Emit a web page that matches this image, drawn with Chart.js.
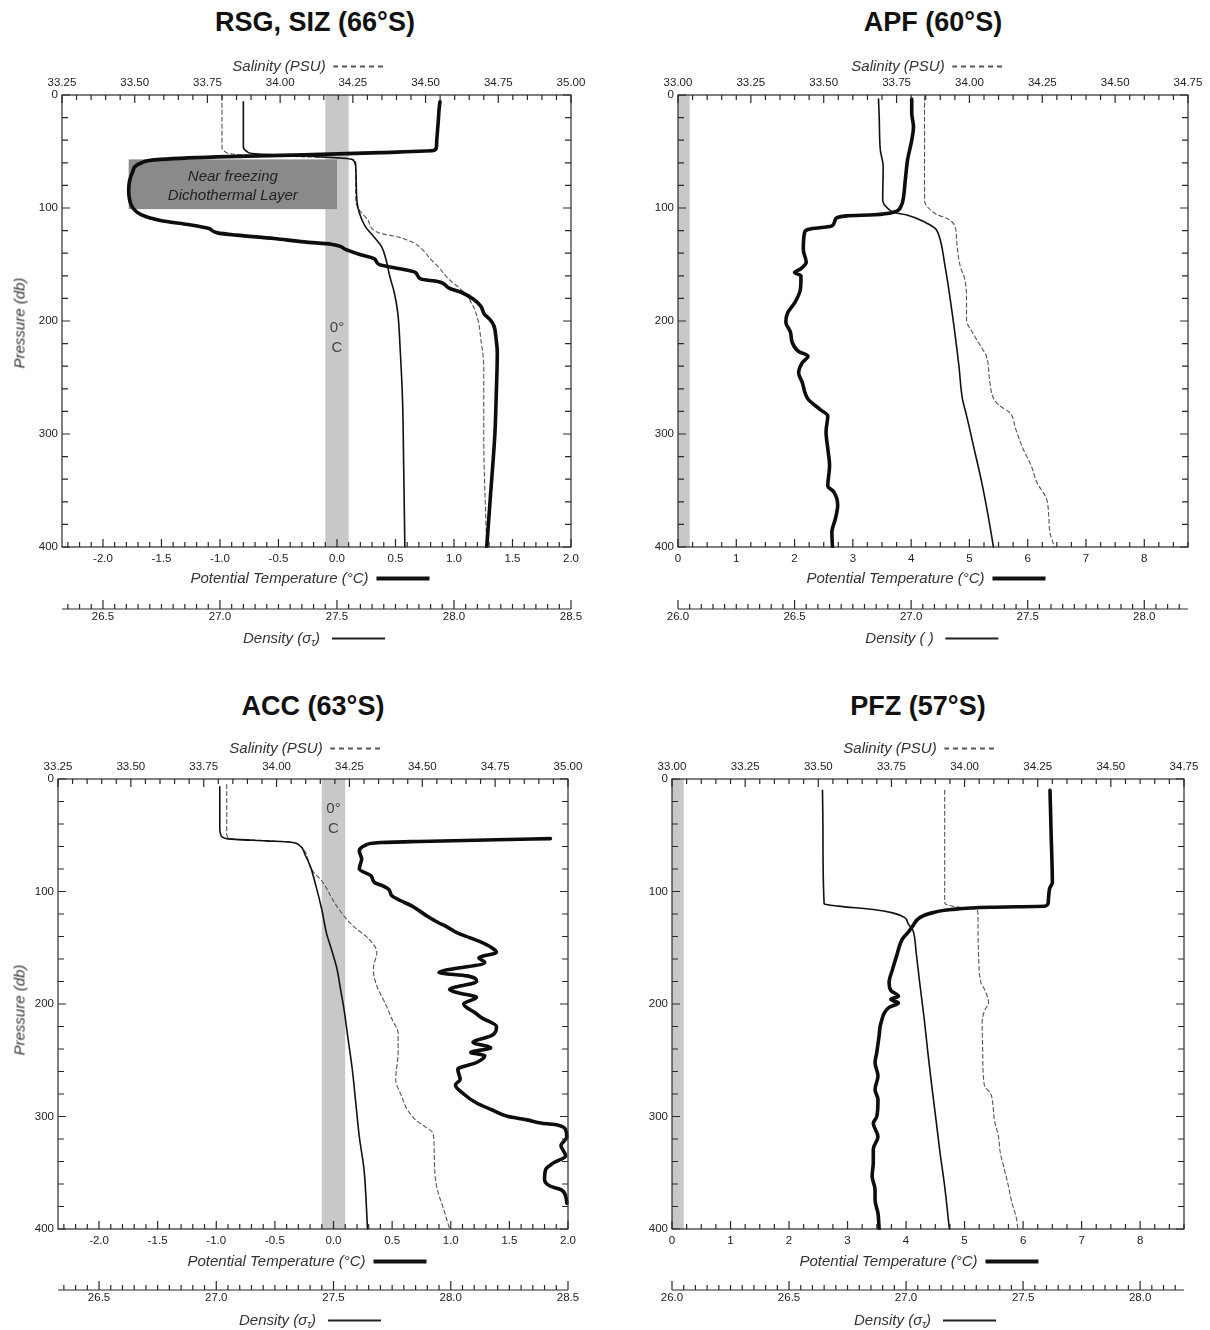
<!DOCTYPE html>
<html>
<head>
<meta charset="utf-8">
<script src="https://cdn.jsdelivr.net/npm/chart.js@4.4.1/dist/chart.umd.min.js"></script>
<style>
html, body { margin: 0; padding: 0; background: #fff; }
body { width: 1210px; height: 1330px; position: relative; overflow: hidden;
       font-family: "Liberation Sans", Arial, Helvetica, sans-serif; color: #222; }
canvas { position: absolute; }
.t { position: absolute; white-space: nowrap; transform: translate(-50%, -50%); line-height: 1; }
.title { font-weight: bold; font-size: 27px; color: #111; }
.ax { font-style: italic; font-size: 15px; color: #333; }
.ax sub { font-size: 10px; vertical-align: -3px; line-height: 0; }
.dash { display: inline-block; width: 52px; height: 1.5px; vertical-align: middle; margin-left: 8px;
        background: repeating-linear-gradient(90deg, #555 0 5px, transparent 5px 9px); }
.thick { display: inline-block; width: 53px; height: 4px; background: #111; vertical-align: middle; margin-left: 8px; }
.thin { display: inline-block; width: 53px; height: 1.5px; background: #222; vertical-align: middle; margin-left: 12px; }
.rot { transform: translate(-50%, -50%) rotate(-90deg); }
.note { font-style: italic; font-size: 15px; color: #222; }
.zero { font-size: 15px; color: #444; line-height: 20px; text-align: center; white-space: pre; }
</style>
</head>
<body>
<canvas id="rsg"></canvas>
<canvas id="apf"></canvas>
<canvas id="acc"></canvas>
<canvas id="pfz"></canvas>

<div class="t title" style="left:315px;top:22px">RSG, SIZ (66°S)</div>
<div class="t title" style="left:933px;top:22px">APF (60°S)</div>
<div class="t title" style="left:313px;top:706px">ACC (63°S)</div>
<div class="t title" style="left:918px;top:706px">PFZ (57°S)</div>

<div class="t ax" style="left:309px;top:65px">Salinity (PSU)<span class="dash"></span></div>
<div class="t ax" style="left:928px;top:65px">Salinity (PSU)<span class="dash"></span></div>
<div class="t ax" style="left:306px;top:747px">Salinity (PSU)<span class="dash"></span></div>
<div class="t ax" style="left:920px;top:747px">Salinity (PSU)<span class="dash"></span></div>

<div class="t ax" style="left:310px;top:577px">Potential Temperature (°C)<span class="thick"></span></div>
<div class="t ax" style="left:926px;top:577px">Potential Temperature (°C)<span class="thick"></span></div>
<div class="t ax" style="left:307px;top:1260px">Potential Temperature (°C)<span class="thick"></span></div>
<div class="t ax" style="left:919px;top:1260px">Potential Temperature (°C)<span class="thick"></span></div>

<div class="t ax" style="left:314px;top:637px">Density (σ<sub>τ</sub>)<span class="thin"></span></div>
<div class="t ax" style="left:932px;top:637px">Density ( )<span class="thin"></span></div>
<div class="t ax" style="left:310px;top:1319px">Density (σ<sub>τ</sub>)<span class="thin"></span></div>
<div class="t ax" style="left:925px;top:1319px">Density (σ<sub>τ</sub>)<span class="thin"></span></div>

<div class="t ax rot" style="left:19px;top:323px">Pressure (db)</div>
<div class="t ax rot" style="left:19px;top:1010px">Pressure (db)</div>

<script>
// ---- values (pressure in db) ----
// RSG, SIZ (66°S)
const rsgTempP = [6, 16, 46, 49, 51, 53, 54.5, 57, 60, 69, 84, 99, 106, 111, 115, 118, 122, 124, 127, 130, 132, 137, 141, 145, 150, 153, 157, 163, 165, 171, 175, 181, 187, 194, 199, 204, 216, 228, 269, 299, 357, 400];
const rsgTemp = [0.88, 0.87, 0.85, 0.83, 0.37, -0.28, -0.93, -1.51, -1.67, -1.75, -1.78, -1.75, -1.67, -1.51, -1.25, -1.10, -1.02, -0.86, -0.54, -0.28, -0.05, 0.08, 0.19, 0.32, 0.36, 0.50, 0.67, 0.72, 0.86, 0.96, 1.07, 1.17, 1.23, 1.26, 1.31, 1.34, 1.36, 1.37, 1.36, 1.35, 1.31, 1.28];
const rsgDensP = [6, 46, 50, 52, 54, 56, 57, 63, 93, 104, 116, 126, 134, 146, 160, 175, 193, 225, 269, 328, 400];
const rsgDens = [27.10, 27.10, 27.115, 27.15, 27.36, 27.525, 27.565, 27.58, 27.585, 27.595, 27.62, 27.66, 27.69, 27.71, 27.725, 27.745, 27.76, 27.77, 27.78, 27.785, 27.79];
const rsgSalP = [1, 46, 50, 53, 56, 59, 93, 101, 110, 122, 126, 131, 137, 146, 151, 163, 174, 185, 199, 216, 240, 299, 400];
const rsgSal = [33.80, 33.80, 33.81, 33.87, 34.22, 34.26, 34.26, 34.27, 34.30, 34.34, 34.41, 34.46, 34.49, 34.52, 34.54, 34.58, 34.63, 34.66, 34.68, 34.69, 34.70, 34.70, 34.71];

// APF (60°S)
const apfTempP = [3.5, 16, 28, 40, 57, 75, 93, 98, 104, 106, 107, 110, 116, 117.5, 119, 122, 137, 148, 154, 157, 160, 172, 184, 193, 201, 210, 219, 227, 231, 237, 246, 254, 269, 278, 284, 298, 313, 328, 346, 351, 363, 375, 387, 400];
const apfTemp = [4.01, 4.01, 4.04, 4.01, 3.94, 3.90, 3.86, 3.83, 3.68, 3.37, 2.90, 2.70, 2.64, 2.43, 2.23, 2.17, 2.15, 2.20, 2.10, 2.00, 2.11, 2.10, 2.00, 1.88, 1.85, 1.93, 1.96, 2.07, 2.23, 2.13, 2.07, 2.13, 2.23, 2.43, 2.57, 2.54, 2.57, 2.60, 2.57, 2.67, 2.74, 2.70, 2.64, 2.65];
const apfDensP = [3.5, 19, 49, 63, 93, 101, 104, 106, 113, 118, 122, 151, 196, 240, 269, 284, 313, 343, 372, 400];
const apfDens = [26.86, 26.863, 26.868, 26.88, 26.878, 26.903, 26.928, 26.978, 27.063, 27.103, 27.115, 27.145, 27.178, 27.205, 27.22, 27.238, 27.27, 27.303, 27.33, 27.353];
const apfSalP = [1, 93, 99, 106, 109, 116, 128, 151, 163, 181, 199, 210, 222, 231, 254, 269, 275, 281, 295, 313, 328, 343, 357, 372, 387, 400];
const apfSal = [33.846, 33.846, 33.856, 33.89, 33.922, 33.95, 33.956, 33.968, 33.984, 33.99, 33.99, 34.01, 34.038, 34.058, 34.07, 34.084, 34.104, 34.138, 34.158, 34.184, 34.212, 34.232, 34.264, 34.272, 34.276, 34.292];

// ACC (63°S)
const accTempP = [53, 54, 55.5, 56.5, 59, 64, 71, 80, 86, 92, 95, 98, 104, 108, 113, 117, 122, 128, 131, 137, 141, 145, 150, 154, 159, 163, 172, 175, 180, 187, 190, 194, 200, 208, 212, 220, 228, 234, 239, 243, 246, 252, 258, 267, 272, 280, 288, 294, 300, 303, 306, 307.5, 312, 318, 326, 335, 341, 347, 356, 362, 365, 371, 377];
const accTemp = [1.85, 1.39, 0.73, 0.40, 0.27, 0.22, 0.24, 0.22, 0.32, 0.35, 0.42, 0.47, 0.50, 0.57, 0.67, 0.73, 0.80, 0.90, 0.96, 1.06, 1.16, 1.26, 1.35, 1.39, 1.24, 1.29, 0.90, 1.14, 1.22, 0.99, 1.06, 1.22, 1.11, 1.21, 1.26, 1.39, 1.35, 1.19, 1.34, 1.17, 1.29, 1.22, 1.06, 1.08, 1.04, 1.11, 1.22, 1.35, 1.49, 1.65, 1.78, 1.91, 1.98, 1.99, 1.94, 1.98, 1.88, 1.81, 1.80, 1.85, 1.94, 1.98, 1.99];
const accDensP = [7, 45, 50, 53, 55, 56, 59, 68, 77, 95, 116, 137, 154, 169, 187, 205, 228, 258, 288, 318, 347, 400];
const accDens = [27.015, 27.015, 27.02, 27.045, 27.21, 27.31, 27.355, 27.38, 27.40, 27.425, 27.45, 27.47, 27.495, 27.515, 27.53, 27.545, 27.56, 27.58, 27.595, 27.61, 27.63, 27.645];
const accSalP = [5, 49, 53, 55, 56, 59, 65, 71, 80, 92, 110, 122, 131, 142, 154, 169, 184, 199, 214, 226, 243, 267, 282, 294, 303, 309, 315, 332, 362, 383, 400];
const accSal = [33.829, 33.829, 33.841, 33.974, 34.047, 34.079, 34.099, 34.107, 34.119, 34.159, 34.199, 34.232, 34.264, 34.316, 34.344, 34.332, 34.344, 34.372, 34.397, 34.417, 34.417, 34.409, 34.429, 34.449, 34.477, 34.509, 34.537, 34.541, 34.549, 34.574, 34.594];

// PFZ (57°S)
const pfzTempP = [10, 50, 92, 98, 110, 113, 114, 116, 119, 123, 131, 136, 142, 157, 169, 181, 188, 193, 196, 199, 203, 217, 228, 243, 252, 264, 276, 285, 300, 306, 318, 329, 341, 353, 365, 374, 386, 400];
const pfzTemp = [6.46, 6.48, 6.50, 6.45, 6.43, 6.38, 5.44, 4.78, 4.44, 4.24, 4.11, 4.04, 3.94, 3.84, 3.77, 3.71, 3.74, 3.87, 3.74, 3.87, 3.71, 3.57, 3.54, 3.50, 3.47, 3.52, 3.47, 3.52, 3.50, 3.44, 3.52, 3.44, 3.44, 3.42, 3.47, 3.47, 3.52, 3.54];
const pfzDensP = [10, 50, 111, 113, 116, 119, 123, 129, 134, 139, 154, 184, 214, 243, 273, 303, 332, 362, 400];
const pfzDens = [26.643, 26.645, 26.65, 26.71, 26.86, 26.943, 26.993, 27.01, 27.028, 27.035, 27.043, 27.06, 27.078, 27.093, 27.11, 27.128, 27.145, 27.165, 27.185];
const pfzSalP = [10, 110, 112, 114, 116, 122, 134, 157, 181, 187, 199, 206, 217, 243, 273, 279, 288, 303, 318, 332, 347, 362, 377, 389, 400];
const pfzSal = [33.932, 33.932, 33.942, 33.982, 34.042, 34.046, 34.046, 34.048, 34.056, 34.068, 34.082, 34.068, 34.06, 34.062, 34.068, 34.088, 34.096, 34.102, 34.116, 34.122, 34.136, 34.15, 34.162, 34.176, 34.182];

// ---- tick labels ----
const pressTicks = [0, 100, 200, 300, 400];
const salTicksCold = [33.25, 33.5, 33.75, 34.0, 34.25, 34.5, 34.75, 35.0];
const salTicksWarm = [33.0, 33.25, 33.5, 33.75, 34.0, 34.25, 34.5, 34.75];
const tempTicksCold = [-2.0, -1.5, -1.0, -0.5, 0.0, 0.5, 1.0, 1.5, 2.0];
const tempTicksWarm = [0, 1, 2, 3, 4, 5, 6, 7, 8];
const densTicksCold = [26.5, 27.0, 27.5, 28.0, 28.5];
const densTicksWarm = [26.0, 26.5, 27.0, 27.5, 28.0];

// axis ranges (density axis is tied to the temperature axis)
const salRangeCold = [33.25, 35.0], tempRangeCold = [-2.35, 2.0], densRangeCold = [26.325, 28.5];
const salRangeWarm = [33.0, 34.75], tempRangeWarm = [0, 8.75], densRangeWarm = [26.0, 28.1875];

const yw = 58, padR = 22, salH = 26, densH = 24;
const tickFont = { family: '"Liberation Sans", Arial, sans-serif', size: 11.5 };
const tickColor = '#222';

// frame, inward ticks, 0°C band and shaded layer, all through the scales
const frameTicks = {
    id: 'frameTicks',
    beforeDatasetsDraw(chart, args, o) {
        const { ctx, chartArea: a, scales: { xt, y } } = chart;
        ctx.save();
        ctx.beginPath();
        ctx.rect(a.left, a.top, a.right - a.left, a.bottom - a.top);
        ctx.clip();
        if (o.band) {
            const x0 = xt.getPixelForValue(o.band[0]), x1 = xt.getPixelForValue(o.band[1]);
            ctx.fillStyle = '#c8c8c8';
            ctx.fillRect(x0, a.top, x1 - x0, a.bottom - a.top);
        }
        if (o.box) {
            const x0 = xt.getPixelForValue(o.box[0]), x1 = xt.getPixelForValue(o.box[1]);
            const y0 = y.getPixelForValue(o.box[2]), y1 = y.getPixelForValue(o.box[3]);
            ctx.fillStyle = '#8a8a8a';
            ctx.fillRect(x0, y0, x1 - x0, y1 - y0);
        }
        ctx.restore();
    },
    afterDatasetsDraw(chart, args, o) {
        const { ctx, chartArea: a, scales: { xs, xt, xd, y } } = chart;
        const each = (sc, minor, major, cb) => {
            const n0 = Math.ceil(sc.min / minor - 1e-6), n1 = Math.floor(sc.max / minor + 1e-6);
            for (let i = n0; i <= n1; i++) {
                const v = i * minor, r = v / major;
                cb(sc.getPixelForValue(v), Math.abs(r - Math.round(r)) < 1e-6);
            }
        };
        ctx.save();
        ctx.strokeStyle = '#2a2a2a';
        ctx.lineWidth = 1.2;
        ctx.strokeRect(a.left, a.top, a.right - a.left, a.bottom - a.top);
        ctx.beginPath();
        each(xs, o.sal[0], o.sal[1], (px, M) => { ctx.moveTo(px, a.top); ctx.lineTo(px, a.top + (M ? 8 : 5)); });
        each(xt, o.temp[0], o.temp[1], (px, M) => { ctx.moveTo(px, a.bottom); ctx.lineTo(px, a.bottom - (M ? 8 : 5)); });
        each(y, 20, 100, (py, M) => {
            const l = M ? 8 : 6;
            ctx.moveTo(a.left, py); ctx.lineTo(a.left + l, py);
            ctx.moveTo(a.right, py); ctx.lineTo(a.right - l, py);
        });
        const base = xd.top;
        ctx.moveTo(xd.left, base); ctx.lineTo(xd.right, base);
        each(xd, 0.05, 0.5, (px, M) => { ctx.moveTo(px, base); ctx.lineTo(px, base - (M ? 9 : 5)); });
        ctx.stroke();
        ctx.restore();
    }
};

const pts = (P, V) => P.map((p, i) => ({ x: V[i], y: p }));
const fixTicks = arr => scale => { scale.ticks = arr.map(v => ({ value: v })); };

function makePanel(id, g, s) {
    const cv = document.getElementById(id);
    const left = g.L - yw, top = g.T - salH;
    cv.width = g.R + padR - left;
    cv.height = g.Dy + densH - top;
    cv.style.left = left + 'px';
    cv.style.top = top + 'px';

    const axisBase = { type: 'linear', grid: { display: false, drawTicks: false }, border: { display: false } };
    const tk = extra => ({ font: tickFont, color: tickColor, maxRotation: 0, autoSkip: false, ...extra });
    const chart = new Chart(cv, {
        type: 'line',
        data: {
            datasets: [
                { data: pts(s.tempP, s.temp), xAxisID: 'xt', borderColor: '#0d0d0d', borderWidth: 3.6, clip: 1 },
                { data: pts(s.densP, s.dens), xAxisID: 'xd', borderColor: '#111', borderWidth: 1.6, clip: 1 },
                { data: pts(s.salP, s.sal), xAxisID: 'xs', borderColor: '#555', borderWidth: 1.1, borderDash: [4, 3], clip: 1 }
            ]
        },
        options: {
            responsive: false,
            animation: false,
            indexAxis: 'y',
            layout: { padding: { left: 0, right: padR, top: 0, bottom: 0 } },
            elements: {
                point: { radius: 0 },
                line: { cubicInterpolationMode: 'monotone', borderCapStyle: 'round', borderJoinStyle: 'round' }
            },
            plugins: {
                legend: { display: false },
                tooltip: { enabled: false },
                frameTicks: { sal: [0.05, 0.25], temp: s.tempMinor, band: s.band, box: s.box }
            },
            scales: {
                y: { ...axisBase, position: 'left', reverse: true, min: 0, max: 400,
                     afterBuildTicks: fixTicks(pressTicks), afterFit: sc => { sc.width = yw; },
                     ticks: tk({ padding: 4 }) },
                xs: { ...axisBase, position: 'top', min: s.salRange[0], max: s.salRange[1],
                      afterBuildTicks: fixTicks(s.salTicks), afterFit: sc => { sc.height = salH; },
                      ticks: tk({ padding: 5, callback: v => v.toFixed(2) }) },
                xt: { ...axisBase, position: 'bottom', weight: 0, min: s.tempRange[0], max: s.tempRange[1],
                      afterBuildTicks: fixTicks(s.tempTicks), afterFit: sc => { sc.height = g.Dy - g.B; },
                      ticks: tk({ padding: 5, callback: v => v.toFixed(s.tempDigits) }) },
                xd: { ...axisBase, position: 'bottom', weight: 1, min: s.densRange[0], max: s.densRange[1],
                      afterBuildTicks: fixTicks(s.densTicks), afterFit: sc => { sc.height = densH; },
                      ticks: tk({ padding: 1, callback: v => v.toFixed(1) }) }
            }
        },
        plugins: [frameTicks]
    });

    // text notes placed through the chart's scales
    (s.notes || []).forEach(n => {
        const el = document.createElement('div');
        el.className = 't ' + n.cls;
        el.textContent = n.text;
        el.style.left = (left + chart.scales.xt.getPixelForValue(n.t)) + 'px';
        el.style.top = (top + chart.scales.y.getPixelForValue(n.p)) + 'px';
        document.body.appendChild(el);
    });
    return chart;
}

const cold = { salRange: salRangeCold, tempRange: tempRangeCold, densRange: densRangeCold,
               salTicks: salTicksCold, tempTicks: tempTicksCold, densTicks: densTicksCold,
               tempDigits: 1, tempMinor: [0.1, 0.5], band: [-0.1, 0.1] };
const warm = { salRange: salRangeWarm, tempRange: tempRangeWarm, densRange: densRangeWarm,
               salTicks: salTicksWarm, tempTicks: tempTicksWarm, densTicks: densTicksWarm,
               tempDigits: 0, tempMinor: [0.25, 1], band: [0, 0.2] };

makePanel('rsg', { L: 62, R: 571, T: 95, B: 547, Dy: 609 }, {
    ...cold,
    tempP: rsgTempP, temp: rsgTemp, densP: rsgDensP, dens: rsgDens, salP: rsgSalP, sal: rsgSal,
    box: [-1.78, 0.0, 57, 101],
    notes: [
        { text: 'Near freezing', cls: 'note', t: -0.89, p: 70.5 },
        { text: 'Dichothermal Layer', cls: 'note', t: -0.89, p: 87.5 },
        { text: '0°\nC', cls: 'zero', t: 0, p: 214 }
    ]
});
makePanel('apf', { L: 678, R: 1188, T: 95, B: 547, Dy: 609 }, {
    ...warm,
    tempP: apfTempP, temp: apfTemp, densP: apfDensP, dens: apfDens, salP: apfSalP, sal: apfSal
});
makePanel('acc', { L: 58, R: 568, T: 779, B: 1229, Dy: 1290 }, {
    ...cold,
    tempP: accTempP, temp: accTemp, densP: accDensP, dens: accDens, salP: accSalP, sal: accSal,
    notes: [{ text: '0°\nC', cls: 'zero', t: 0, p: 35 }]
});
makePanel('pfz', { L: 672, R: 1184, T: 779, B: 1229, Dy: 1290 }, {
    ...warm,
    tempP: pfzTempP, temp: pfzTemp, densP: pfzDensP, dens: pfzDens, salP: pfzSalP, sal: pfzSal
});
</script>
</body>
</html>
